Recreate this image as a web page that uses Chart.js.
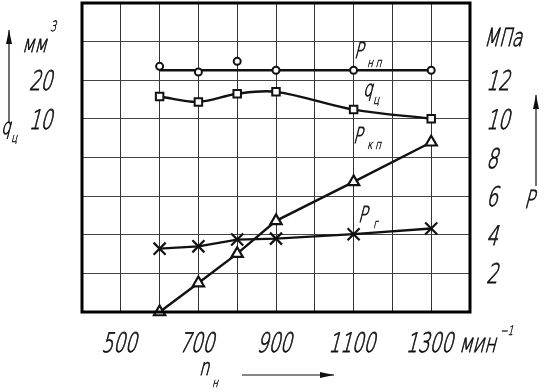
<!DOCTYPE html>
<html><head><meta charset="utf-8">
<script src="https://cdn.jsdelivr.net/npm/chart.js@4"></script>
<style>html,body{margin:0;padding:0;background:#fff}#wrap{width:551px;height:392px}</style>
</head><body><div id="wrap"><canvas id="c" width="551" height="392"></canvas></div>
<script>
const speeds = [600, 700, 800, 900, 1100, 1300];
const pNpPoints = [12.72, 12.43, 12.98, 12.52, 12.52, 12.52];
const pNpLineX = [600, 1300];
const pNpLineY = [12.52, 12.52];
const qC = [15.8, 14.4, 16.5, 17.0, 12.4, 10.05];
const pKp = [0, 1.5, 3.02, 4.72, 6.74, 8.79];
const pG = [3.28, 3.40, 3.75, 3.80, 4.03, 4.32];
const xTickLabels = [500, 700, 900, 1100, 1300];
const pTickLabels = [2, 4, 6, 8, 10, 12];
const qTickLabels = [10, 20];

const FF = "'DejaVu Sans','Liberation Sans',sans-serif";
const SX = 0.68, SKEW = -0.26;
const pts = (xs, ys) => xs.map((x, i) => ({x: x, y: ys[i]}));
const noPad = s => { s.paddingTop = 0; s.paddingBottom = 0; s.paddingLeft = 0; s.paddingRight = 0; };

const annot = {
  id: 'annot',
  afterDraw(chart) {
    const ctx = chart.ctx, a = chart.chartArea;
    const sx = chart.scales.x, sp = chart.scales.yP, sq = chart.scales.yQ;
    ctx.save();
    ctx.strokeStyle = '#000'; ctx.lineWidth = 3;
    ctx.strokeRect(a.left, a.top, a.right - a.left, a.bottom - a.top);
    ctx.fillStyle = '#111';
    const txt = (s, x, y, size, align) => {
      ctx.save(); ctx.translate(x, y); ctx.transform(SX, 0, SKEW, 1, 0, 0);
      ctx.font = '200 ' + size + 'px ' + FF;
      ctx.textAlign = align || 'left'; ctx.textBaseline = 'alphabetic';
      ctx.fillStyle = '#111'; ctx.strokeStyle = '#111'; ctx.lineWidth = size > 16 ? 0.8 : 0.5;
      ctx.fillText(s, 0, 0); ctx.strokeText(s, 0, 0); ctx.restore();
    };
    // tick labels from the library's scales
    sx.ticks.forEach(t => { if (xTickLabels.includes(t.value)) txt(String(t.value), sx.getPixelForValue(t.value) - 2, a.bottom + 40, 27, 'center'); });
    sp.ticks.forEach(t => { if (pTickLabels.includes(t.value)) txt(String(t.value), a.right + 16, sp.getPixelForValue(t.value) + 10, 27, 'left'); });
    sq.ticks.forEach(t => { if (qTickLabels.includes(t.value)) txt(String(t.value), a.left - 30, sq.getPixelForValue(t.value) + 10, 27, 'right'); });
    txt('МПа', a.right + 14, sp.getPixelForValue(14) + 4, 25, 'left');
    // curve labels
    txt('P', 354, 58, 22); txt('н п', 367, 67, 13);
    txt('q', 363, 96, 22); txt('ц', 373, 104, 13);
    txt('P', 353, 143, 22); txt('к п', 367, 149, 13);
    txt('P', 358, 222, 22); txt('г', 373, 228, 13);
    // axis units & titles
    txt('мм', 22, 52, 24); txt('3', 50, 31, 14);
    txt('q', 1, 134, 22); txt('ц', 11, 142, 13);
    txt('P', 524, 208, 25);
    txt('мин', 459, 352, 26); txt('−1', 500, 335, 13);
    txt('n', 199, 375, 23); txt('н', 212, 387, 13);
    // arrows
    const arrow = (x1, y1, x2, y2) => {
      ctx.strokeStyle = '#111'; ctx.lineWidth = 1.2;
      ctx.beginPath(); ctx.moveTo(x1, y1); ctx.lineTo(x2, y2); ctx.stroke();
      const ang = Math.atan2(y2 - y1, x2 - x1), L = 14, W = 3;
      ctx.beginPath();
      ctx.moveTo(x2, y2);
      ctx.lineTo(x2 - L * Math.cos(ang) + W * Math.sin(ang), y2 - L * Math.sin(ang) - W * Math.cos(ang));
      ctx.lineTo(x2 - L * Math.cos(ang) - W * Math.sin(ang), y2 - L * Math.sin(ang) + W * Math.cos(ang));
      ctx.closePath(); ctx.fill();
    };
    arrow(9, 123, 9, 30);
    arrow(536, 186, 536, 95);
    arrow(242, 375, 334, 375);
    ctx.restore();
  }
};

new Chart(document.getElementById('c'), {
  type: 'line',
  data: {
    datasets: [
      {label: 'Pнп', data: pts(speeds, pNpPoints), showLine: false, pointStyle: 'circle', pointRadius: 3.5,
       pointBorderWidth: 2, pointBackgroundColor: '#fff', pointBorderColor: '#111', yAxisID: 'yP', clip: false},
      {label: 'Pнп line', data: pts(pNpLineX, pNpLineY), borderColor: '#111', borderWidth: 2.5, pointRadius: 0, yAxisID: 'yP', order: 5},
      {label: 'qц', data: pts(speeds, qC), borderColor: '#111', borderWidth: 2.4, tension: 0.35, pointStyle: 'rect', pointRadius: 5.3,
       pointBorderWidth: 2, pointBackgroundColor: '#fff', pointBorderColor: '#111', yAxisID: 'yQ', clip: false},
      {label: 'Pкп', data: pts(speeds, pKp), borderColor: '#111', borderWidth: 2.4, tension: 0, pointStyle: 'triangle', pointRadius: 6.5,
       pointBorderWidth: 2.2, pointBackgroundColor: '#fff', pointBorderColor: '#111', yAxisID: 'yP', clip: false},
      {label: 'Pг', data: pts(speeds, pG), borderColor: '#111', borderWidth: 2.4, tension: 0, pointStyle: 'crossRot', pointRadius: 8.5,
       pointBorderWidth: 2.2, pointBorderColor: '#111', yAxisID: 'yP', clip: false}
    ]
  },
  options: {
    responsive: false, animation: false, devicePixelRatio: 1,
    layout: {autoPadding: false, padding: {top: 3, left: 0, right: 0, bottom: 0}},
    plugins: {legend: {display: false}, tooltip: {enabled: false}},
    scales: {
      x: {
        type: 'linear', min: 400, max: 1400,
        afterFit: s => { s.height = 80; noPad(s); },
        border: {display: false},
        grid: {color: '#333', lineWidth: 1, drawTicks: false},
        ticks: {display: false, stepSize: 100, autoSkip: false, maxRotation: 0}
      },
      yP: {
        type: 'linear', position: 'right', min: 0, max: 16,
        afterFit: s => { s.width = 81; noPad(s); },
        border: {display: false},
        grid: {color: '#444', lineWidth: 1, drawTicks: false},
        ticks: {display: false, stepSize: 2}
      },
      yQ: {
        type: 'linear', position: 'left', min: -40, max: 40,
        afterFit: s => { s.width = 82; noPad(s); },
        border: {display: false},
        grid: {display: false, drawTicks: false},
        ticks: {display: false, stepSize: 10}
      }
    }
  },
  plugins: [annot]
});
</script></body></html>
